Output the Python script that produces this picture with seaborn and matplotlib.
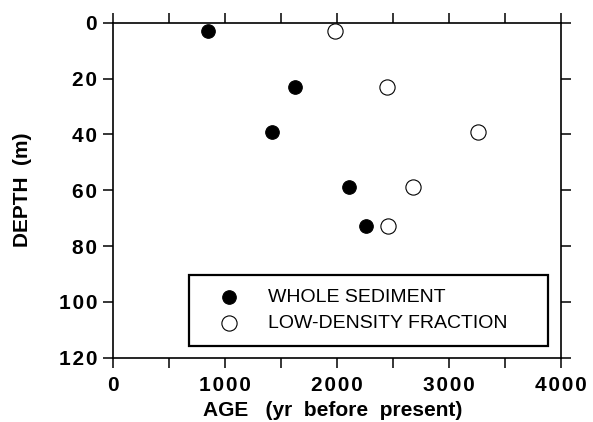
import numpy as np
import pandas as pd
import seaborn as sns
import matplotlib.pyplot as plt

# data
depth = [3, 23, 39, 59, 73]
age_whole = [846, 1625, 1420, 2107, 2259]
age_lowdens = [1982, 2449, 3256, 2682, 2455]
series_names = ['WHOLE SEDIMENT', 'LOW-DENSITY FRACTION']
x_ticks = [0, 1000, 2000, 3000, 4000]
y_ticks = [0, 20, 40, 60, 80, 100, 120]

df = pd.DataFrame({
    'age': age_whole + age_lowdens,
    'depth': depth + depth,
    'sample': [series_names[0]] * len(depth) + [series_names[1]] * len(depth),
})

sns.set_style('ticks', rc={'text.color': 'black', 'axes.labelcolor': 'black',
                           'xtick.color': 'black', 'ytick.color': 'black',
                           'axes.edgecolor': 'black'})
plt.rcParams['font.family'] = ['Liberation Sans', 'DejaVu Sans']


def spaced(v):
    # the printed tick labels are letter-spaced
    return '\u200a'.join(str(v))


fig = plt.figure(figsize=(5.93, 4.22), dpi=100)
ax = fig.add_axes([0.1906, 0.1524, 0.7554, 0.7938])

whole = df[df['sample'] == series_names[0]]
low = df[df['sample'] == series_names[1]]
sns.scatterplot(data=whole, x='age', y='depth', ax=ax, color='black',
                edgecolor='black', s=95, linewidth=0.8, label=series_names[0], zorder=3)
sns.scatterplot(data=low, x='age', y='depth', ax=ax, color='white',
                edgecolor='black', s=120, linewidth=0.8, label=series_names[1], zorder=3)

ax.set_xlim(0, 4000)
ax.set_ylim(120, 0)
ax.set_xticks(x_ticks)
ax.set_xticks(np.arange(500, 4000, 1000), minor=True)
ax.set_yticks(y_ticks)
ax.set_xticklabels([spaced(v) for v in x_ticks], fontsize=15, fontweight='bold')
ax.set_yticklabels([spaced(v) for v in y_ticks], fontsize=15, fontweight='bold')

ax.tick_params(axis='both', which='both', direction='out', length=7.5, width=1.1,
               top=True, right=True, labeltop=False, labelright=False)
ax.tick_params(axis='x', pad=6)
ax.tick_params(axis='y', pad=4)
for sp in ax.spines.values():
    sp.set_visible(True)
    sp.set_linewidth(1.2)

ax.set_xlabel('AGE   (yr  before  present)', fontsize=15, fontweight='bold')
ax.set_ylabel('DEPTH  (m)', fontsize=15, fontweight='bold')
ax.xaxis.set_label_coords(0.49, -0.13)
ax.yaxis.set_label_coords(-0.18, 0.5)

leg = ax.legend(loc='lower left', bbox_to_anchor=(0.17, 0.035, 0.8, 0.212),
                mode='expand', frameon=True, fancybox=False, fontsize=14,
                borderpad=0.72, handletextpad=0.62, labelspacing=0.42,
                borderaxespad=0, handlelength=2.7)
leg.get_frame().set_edgecolor('black')
leg.get_frame().set_linewidth(1.6)
leg.get_frame().set_alpha(1)

fig.savefig('out.png', dpi=100)
